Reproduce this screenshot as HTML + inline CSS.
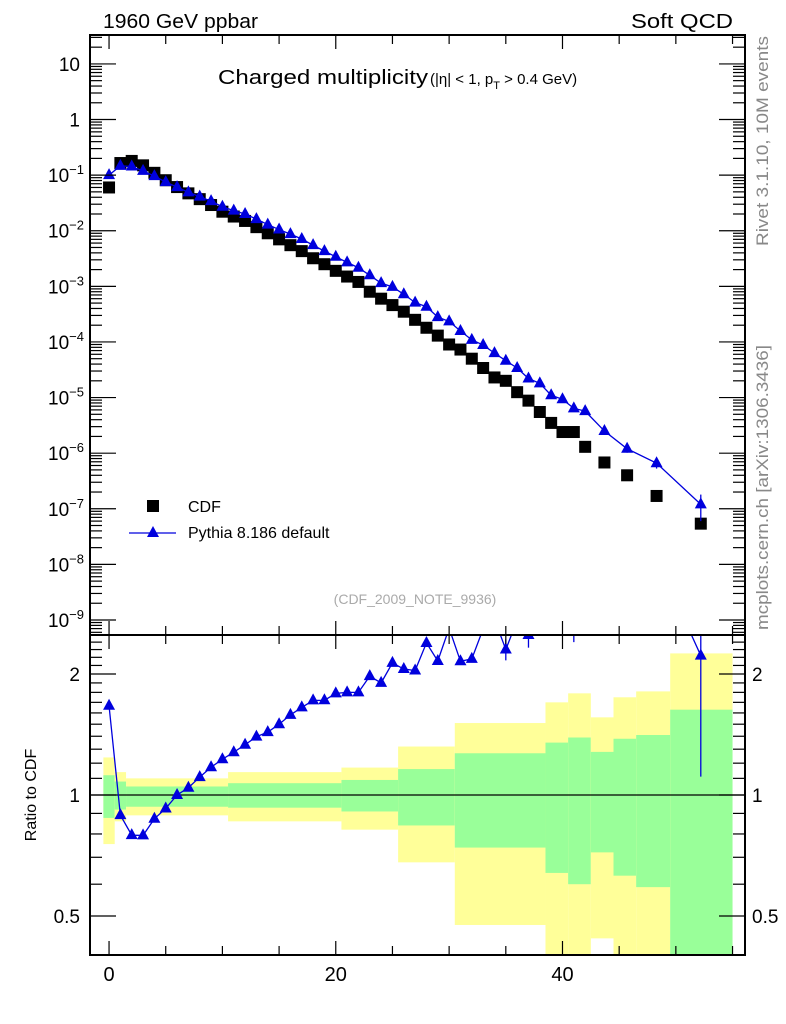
<!DOCTYPE html>
<html><head><meta charset="utf-8"><style>
body{margin:0;background:#fff;}
svg{display:block;font-family:"Liberation Sans",sans-serif;}
</style></head><body>
<svg id="chart" width="786" height="1024" viewBox="0 0 786 1024" xmlns="http://www.w3.org/2000/svg">
<g id="bands"></g>
<g id="marks"></g>
<g id="axes"></g>
<text x="103" y="28" font-size="20" textLength="155" lengthAdjust="spacingAndGlyphs">1960 GeV ppbar</text>
<text x="733" y="28" font-size="20" text-anchor="end" textLength="102" lengthAdjust="spacingAndGlyphs">Soft QCD</text>
<text x="218" y="84" font-size="20" textLength="210" lengthAdjust="spacingAndGlyphs">Charged multiplicity</text>
<text x="430" y="84" font-size="15">(|η| &lt; 1, p<tspan font-size="11" dy="5">T</tspan><tspan dy="-5"> &gt; 0.4 GeV)</tspan></text>
<text transform="translate(768,246) rotate(-90)" font-size="17" fill="#888" textLength="210" lengthAdjust="spacingAndGlyphs">Rivet 3.1.10,  10M events</text>
<text transform="translate(768,630) rotate(-90)" font-size="17" fill="#888" textLength="285" lengthAdjust="spacingAndGlyphs">mcplots.cern.ch [arXiv:1306.3436]</text>
<text x="415" y="604" font-size="14" fill="#aaa" text-anchor="middle">(CDF_2009_NOTE_9936)</text>
<text transform="translate(36,795) rotate(-90)" font-size="16" text-anchor="middle">Ratio to CDF</text>
<g>
<rect x="147" y="500" width="12" height="12" fill="#000"/>
<text x="188" y="512" font-size="16">CDF</text>
<line x1="129" y1="533" x2="176" y2="533" stroke="#0000dd" stroke-width="1.3"/>
<polygon points="153,526 159,537 147,537" fill="#0000dd"/>
<text x="188" y="538" font-size="16">Pythia 8.186 default</text>
</g>
</svg>
<script>
const xs = [0,1,2,3,4,5,6,7,8,9,10,11,12,13,14,15,16,17,18,19,20,21,22,23,24,25,26,27,28,29,30,31,32,33,34,35,36,37,38,39,40,41,42,43.7,45.7,48.3,52.2];
const cdf = [0.06,0.165,0.18,0.15,0.11,0.081,0.061,0.047,0.037,0.029,0.022,0.018,0.015,0.0116,0.009,0.007,0.0055,0.0043,0.0032,0.0025,0.0019,0.0015,0.0012,0.0008,0.0006,0.00046,0.00035,0.00025,0.00018,0.00013,0.00009,0.000073,0.00005,0.000034,0.000023,0.00002,0.0000125,0.0000088,0.0000055,0.0000035,0.0000024,0.0000024,0.0000013,0.00000068,0.0000004,0.00000017,0.000000054];
const pythia = [0.100,0.147,0.143,0.119,0.096,0.075,0.061,0.049,0.041,0.034,0.027,0.023,0.020,0.0162,0.0129,0.0105,0.0087,0.0071,0.0055,0.0043,0.0034,0.0027,0.00216,0.00158,0.00114,0.00098,0.00072,0.00051,0.00043,0.00028,0.000234,0.000157,0.000109,0.000088,0.000063,0.000046,0.000034,0.000022,0.000018,0.000011,0.0000093,0.0000064,0.0000057,0.0000025,0.0000012,0.00000066,0.00000012];
const pythiaErr = [0,0,0,0,0,0,0,0,0,0,0,0,0,0,0,0,0,0,0,0,0,0,0,0,0,0,0,0,0,0,0,0,0.03,0.04,0.05,0.06,0.06,0.07,0.08,0.08,0.09,0.1,0.1,0.12,0.15,0.2,0.5];
const bandLo = [-0.5,0.5,1.5,10.5,20.5,25.5,30.5,38.5,40.5,42.5,44.5,46.5,49.5];
const bandHi = [0.5,1.5,10.5,20.5,25.5,30.5,38.5,40.5,42.5,44.5,46.5,49.5,55];
const greenUp = [1.12,1.08,1.05,1.07,1.09,1.16,1.27,1.35,1.39,1.28,1.38,1.41,1.63];
const greenDn = [0.877,0.92,0.935,0.93,0.91,0.84,0.74,0.64,0.60,0.72,0.63,0.59,0.3];
const yellowUp = [1.24,1.14,1.10,1.14,1.17,1.32,1.51,1.70,1.79,1.56,1.75,1.81,2.25];
const yellowDn = [0.755,0.86,0.89,0.86,0.82,0.68,0.475,0.3,0.3,0.44,0.3,0.3,0.3];
const mainTicks = [1,0,-1,-2,-3,-4,-5,-6,-7,-8,-9];
const ratioTicks = [0.5,1,2];
const xTicks = [0,20,40];

const NS='http://www.w3.org/2000/svg';
const L=90,R=745,T=35,MB=635,RB=955;
const X0=-1.68,X1=56.1;
const LY0=-9.27,LY1=1.52;
const RY0=Math.log10(0.4),RY1=Math.log10(2.5);
const sx=v=>L+(v-X0)/(X1-X0)*(R-L);
const sy=v=>T+(LY1-Math.log10(v))/(LY1-LY0)*(MB-T);
const sr=v=>MB+(RY1-Math.log10(v))/(RY1-RY0)*(RB-MB);
function mk(tag,attrs,parent){const e=document.createElementNS(NS,tag);for(const k in attrs)e.setAttribute(k,attrs[k]);parent.appendChild(e);return e;}
const bands=document.getElementById('bands'),marks=document.getElementById('marks'),axes=document.getElementById('axes');
const clip=v=>Math.max(MB,Math.min(RB,v));
for(let i=0;i<bandLo.length;i++){
  const x1=sx(bandLo[i]),x2=Math.min(sx(bandHi[i]),R);
  let y1=clip(sr(yellowUp[i])),y2=clip(sr(yellowDn[i]));
  let e=mk('rect',{x:x1,y:y1,width:x2-x1,height:y2-y1,fill:'#ffff99'},bands);
  
  
  y1=clip(sr(greenUp[i]));y2=clip(sr(greenDn[i]));
  e=mk('rect',{x:x1,y:y1,width:x2-x1,height:y2-y1,fill:'#99ff99'},bands);
  
  
}
let e=mk('line',{x1:L,x2:R,y1:sr(1),y2:sr(1),stroke:'#000','stroke-width':1.3},bands);


const mg=mk('g',{'clip-path':'url(#cm)'},marks);
const defs=mk('defs',{},marks);
const c1=mk('clipPath',{id:'cm'},defs);mk('rect',{x:L,y:T,width:R-L,height:MB-T},c1);
const c2=mk('clipPath',{id:'cr'},defs);mk('rect',{x:L,y:MB,width:R-L,height:RB-MB},c2);
const rg=mk('g',{'clip-path':'url(#cr)'},marks);
xs.forEach((x,i)=>{
  const r=mk('rect',{x:sx(x)-6,y:sy(cdf[i])-6,width:12,height:12,fill:'#000'},mg);
  
  
});
const tri=(g,x,y)=>mk('polygon',{points:`${x},${y-7} ${x+6},${y+4} ${x-6},${y+4}`,fill:'#0000dd'},g);
let pts=xs.map((x,i)=>sx(x)+','+sy(pythia[i])).join(' ');
e=mk('polyline',{points:pts,fill:'none',stroke:'#0000dd','stroke-width':1.3},mg);


let rpts=xs.map((x,i)=>sx(x)+','+sr(pythia[i]/cdf[i])).join(' ');
e=mk('polyline',{points:rpts,fill:'none',stroke:'#0000dd','stroke-width':1.3},rg);


xs.forEach((x,i)=>{
  const X=sx(x);
  if(pythiaErr[i]>0.05){
    const a=sy(pythia[i]*(1+pythiaErr[i])),b=sy(pythia[i]*Math.max(0.05,1-pythiaErr[i]));
    const l=mk('line',{x1:X,x2:X,y1:a,y2:b,stroke:'#0000dd','stroke-width':1.3},mg);
    
    
    const rr=pythia[i]/cdf[i];
    const l2=mk('line',{x1:X,x2:X,y1:sr(rr*(1+pythiaErr[i])),y2:sr(rr*Math.max(0.05,1-pythiaErr[i])),stroke:'#0000dd','stroke-width':1.3},rg);
    
    
  }
  const p=tri(mg,X,sy(pythia[i]));
  
  
  const q=tri(rg,X,sr(pythia[i]/cdf[i]));
  
  
});
[[T,MB],[MB,RB]].forEach(([a,b])=>{
  const f=mk('rect',{x:L,y:a,width:R-L,height:b-a,fill:'none',stroke:'#000','stroke-width':2},axes);
  
  
});
const tick=(x1,y1,x2,y2)=>mk('line',{x1,y1,x2,y2,stroke:'#000','stroke-width':1.2},axes);
for(let d=-10;d<=1;d++){for(let m=1;m<10;m++){const v=m*Math.pow(10,d);const lv=Math.log10(v);if(lv<LY0||lv>LY1)continue;const y=sy(v);const len=m==1?26:12;tick(L,y,L+len,y);tick(R,y,R-len,y);}}
mainTicks.forEach(d=>{
  const y=sy(Math.pow(10,d));
  const t=mk('text',{x:80,y:y+7,'font-size':19,'text-anchor':'end'},axes);
  
  
  if(d==1)t.textContent='10';else if(d==0)t.textContent='1';
  else{t.textContent='10';const s=mk('tspan',{'font-size':13,dy:-8},t);s.textContent=String(d).replace('-','−');t.setAttribute('x',84);}
});
for(let v=0.4;v<=2.51;v+=0.1){const y=sr(v);const maj=Math.abs(v-0.5)<0.01||Math.abs(v-1)<0.01||Math.abs(v-2)<0.01;const len=maj?26:12;tick(L,y,L+len,y);tick(R,y,R-len,y);}
ratioTicks.forEach(v=>{
  const t=mk('text',{x:80,y:sr(v)+7,'font-size':19,'text-anchor':'end'},axes);
  t.textContent=String(v);
  
  
  const t2=mk('text',{x:752,y:sr(v)+7,'font-size':19},axes);
  t2.textContent=String(v);
  
  
});
for(let v=0;v<=55;v+=5){const x=sx(v);const len=v%20==0?14:9;[T,MB].forEach(y=>tick(x,y,x,y+len));[MB,RB].forEach(y=>tick(x,y,x,y-len));}
xTicks.forEach(v=>{
  const t=mk('text',{x:sx(v),y:981,'font-size':20,'text-anchor':'middle'},axes);
  t.textContent=String(v);
  
  
});
</script>
</body></html>
